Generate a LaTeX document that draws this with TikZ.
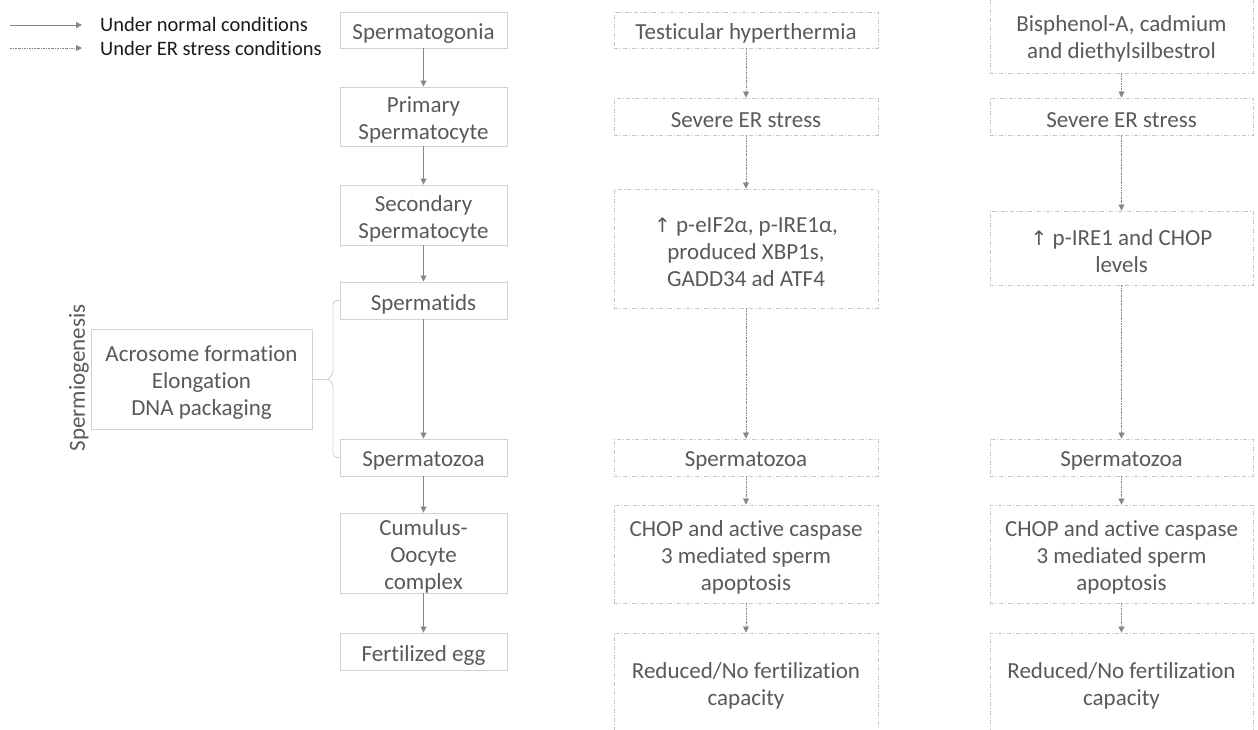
\documentclass[tikz,border=0pt]{standalone}
\usepackage{fontspec}
\setmainfont{Carlito}[Ligatures=NoCommon]
\newfontfamily\symfont{DejaVu Sans}
\usetikzlibrary{arrows.meta}
\definecolor{txt}{HTML}{595959}
\definecolor{legtxt}{HTML}{1A1A1A}
\definecolor{boxline}{HTML}{D3D3D3}
\definecolor{dashline}{HTML}{C4C4C4}
\definecolor{arr}{HTML}{858585}
% box node (drawn) plus its text node, lowered slightly
\newcommand\bxnode[6]{%
  \node[#1, minimum width=#2, minimum height=#3] (#4) at #5 {};
  \node[boxtext] (#4t) at ([yshift=-3.5pt]#4.center) {#6};}
\begin{document}
\begin{tikzpicture}[x=1pt,y=-1pt,
  every node/.style={font=\fontsize{23}{27}\selectfont, text=txt, inner sep=0pt, align=center},
  boxtext/.style={},
  sbox/.style={draw=boxline, line width=0.9pt},
  dbox/.style={draw=dashline, line width=0.9pt, dash pattern=on 4pt off 2pt on 1pt off 2pt},
  narrow/.style={draw=arr, line width=0.8pt, -{Triangle[length=6pt,width=6pt]}},
  earrow/.style={draw=arr, line width=0.7pt, dash pattern=on 2pt off 1pt on 0.7pt off 1pt, -{Triangle[length=6pt,width=6pt]}},
  legtext/.style={font=\fontsize{20.5}{24}\selectfont, text=legtxt, anchor=west},
  brace/.style={draw=boxline, line width=0.9pt, rounded corners=4pt}]
\path[use as bounding box, clip] (0,0) rectangle (1258,729);

% legend
\coordinate (l1a) at (10,25); \coordinate (l1b) at (82,25);
\coordinate (l2a) at (10,48); \coordinate (l2b) at (82,48);
\draw[narrow] (l1a) -- (l1b);
\draw[earrow] (l2a) -- (l2b);
\node[legtext] (lt1) at (100,24) {Under normal conditions};
\node[legtext] (lt2) at (100,48) {Under ER stress conditions};

% left column
\bxnode{sbox}{167pt}{36pt}{sg}{(423.5,30)}{Spermatogonia}
\bxnode{sbox}{167pt}{59pt}{ps}{(423.5,116.5)}{Primary\\Spermatocyte}
\bxnode{sbox}{167pt}{60pt}{ss}{(423.5,215)}{Secondary\\Spermatocyte}
\bxnode{sbox}{167pt}{37pt}{st}{(423.5,300.5)}{Spermatids}
\bxnode{sbox}{167pt}{37pt}{sz}{(423.5,457.5)}{Spermatozoa}
\bxnode{sbox}{167pt}{80pt}{coc}{(423.5,553)}{Cumulus-\\Oocyte\\complex}
\bxnode{sbox}{167pt}{37pt}{fe}{(423.5,651.5)}{Fertilized egg}
\draw[narrow] (sg) -- (ps);
\draw[narrow] (ps) -- (ss);
\draw[narrow] (ss) -- (st);
\draw[narrow] (st) -- (sz);
\draw[narrow] (sz) -- (coc);
\draw[narrow] (coc) -- (fe);

% spermiogenesis
\bxnode{sbox}{221pt}{100pt}{acro}{(201.5,379)}{Acrosome formation\\Elongation\\DNA packaging}
\node[rotate=90] (spg) at (79,378) {Spermiogenesis};
\coordinate (tip) at (328,379);
\draw[brace] (st.west) -- (333,300.5) -- (333,375) -- (tip);
\draw[brace] (sz.west) -- (333,457.5) -- (333,383) -- (tip);
\draw[draw=boxline, line width=0.9pt] (acro.east) -- (tip);

% middle column
\bxnode{dbox}{264pt}{36pt}{th}{(746,30)}{Testicular hyperthermia}
\bxnode{dbox}{264pt}{37pt}{er1}{(746,116.5)}{Severe ER stress}
\bxnode{dbox}{264pt}{119pt}{p1}{(746,248.5)}{{\symfont\fontsize{20}{24}\selectfont ↑} p-eIF2α, p-IRE1α,\\produced XBP1s,\\GADD34 ad ATF4}
\bxnode{dbox}{264pt}{37pt}{sz1}{(746,457.5)}{Spermatozoa}
\bxnode{dbox}{264pt}{98pt}{ch1}{(746,554)}{CHOP and active caspase\\3 mediated sperm\\apoptosis}
\bxnode{dbox}{264pt}{98pt}{rd1}{(746,682)}{Reduced/No fertilization\\capacity}
\draw[earrow] (th) -- (er1);
\draw[earrow] (er1) -- (p1);
\draw[earrow] (p1) -- (sz1);
\draw[earrow] (sz1) -- (ch1);
\draw[earrow] (ch1) -- (rd1);

% right column
\bxnode{dbox}{263pt}{75pt}{bpa}{(1121.5,35.5)}{Bisphenol-A, cadmium\\and diethylsilbestrol}
\bxnode{dbox}{263pt}{37pt}{er2}{(1121.5,116.5)}{Severe ER stress}
\bxnode{dbox}{263pt}{74pt}{p2}{(1121.5,248)}{{\symfont\fontsize{20}{24}\selectfont ↑} p-IRE1 and CHOP\\levels}
\bxnode{dbox}{263pt}{37pt}{sz2}{(1121.5,457.5)}{Spermatozoa}
\bxnode{dbox}{263pt}{98pt}{ch2}{(1121.5,554)}{CHOP and active caspase\\3 mediated sperm\\apoptosis}
\bxnode{dbox}{263pt}{98pt}{rd2}{(1121.5,682)}{Reduced/No fertilization\\capacity}
\draw[earrow] (bpa) -- (er2);
\draw[earrow] (er2) -- (p2);
\draw[earrow] (p2) -- (sz2);
\draw[earrow] (sz2) -- (ch2);
\draw[earrow] (ch2) -- (rd2);
\end{tikzpicture}
\end{document}
